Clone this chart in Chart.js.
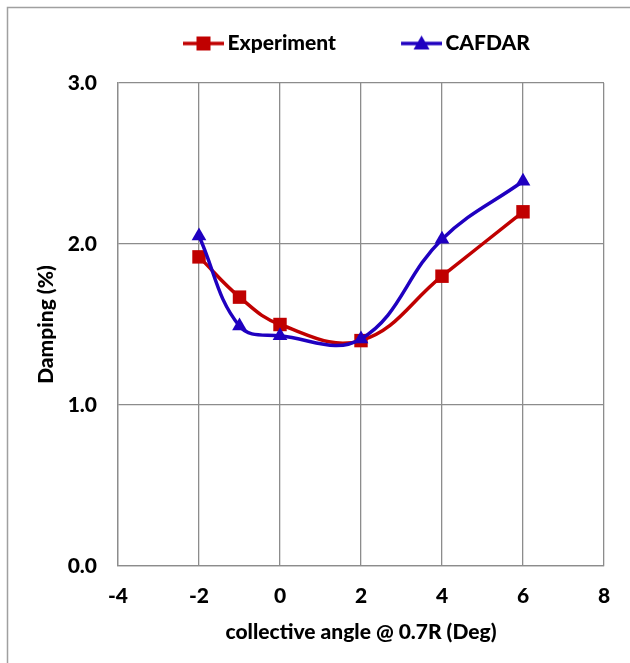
<!DOCTYPE html>
<html>
<head>
<meta charset="utf-8">
<script src="https://cdn.jsdelivr.net/npm/chart.js@4"></script>
<style>
  body { margin: 0; background: #fff; }
  #wrap { width: 630px; height: 663px; }
</style>
</head>
<body>
<div id="wrap"><canvas id="chart" width="630" height="663"></canvas></div>
<script>
// collective angle (deg)
const angles = [-2, -1, 0, 2, 4, 6];
const experiment = [1.92, 1.67, 1.50, 1.40, 1.80, 2.20];
const cafdar = [2.05, 1.49, 1.43, 1.41, 2.03, 2.39];
const seriesNames = ["Experiment", "CAFDAR"];

const red = "#C00000";
const blue = "#1F00C0";
const gridColor = "#8C8C8C";
const fontFamily = "Lato, 'Open Sans', sans-serif";
const fontSize = 21;
const fontWeight = 900;

// legend icon: short line with marker, sitting just left of the text
const iconBox = 70;
function legendIcon(color, shape) {
  const w = iconBox + 14, h = 20;
  const c = document.createElement("canvas");
  c.width = w; c.height = h;
  const g = c.getContext("2d");
  const x0 = w - 41, mid = x0 + 20.5;
  g.strokeStyle = color;
  g.lineWidth = 3.5;
  g.beginPath(); g.moveTo(x0, 10); g.lineTo(w, 10); g.stroke();
  g.fillStyle = color;
  if (shape === "rect") {
    g.fillRect(mid - 7, 3, 14, 14);
  } else {
    g.beginPath(); g.moveTo(mid, 2); g.lineTo(mid + 8, 16); g.lineTo(mid - 8, 16); g.closePath(); g.fill();
  }
  return c;
}

const outerBox = {
  id: "outerBox",
  beforeDraw(chart) {
    const ctx = chart.ctx;
    ctx.save();
    ctx.strokeStyle = "#A0A0A0";
    ctx.lineWidth = 1.5;
    ctx.strokeRect(7.5, 7.5, 700, 700);
    ctx.restore();
  }
};

const toPoints = (ys) => angles.map((x, i) => ({ x: x, y: ys[i] }));

new Chart(document.getElementById("chart"), {
  type: "line",
  data: {
    datasets: [
      {
        label: seriesNames[0],
        data: toPoints(experiment),
        borderColor: red,
        backgroundColor: red,
        borderWidth: 3.5,
        pointStyle: "rect",
        pointRadius: 9.5,
        pointBorderWidth: 0,
        tension: 0.4,
        order: 2
      },
      {
        label: seriesNames[1],
        data: toPoints(cafdar),
        borderColor: blue,
        backgroundColor: blue,
        borderWidth: 3.5,
        pointStyle: "triangle",
        pointRadius: 8.5,
        pointBorderWidth: 0,
        tension: 0.4,
        order: 1
      }
    ]
  },
  options: {
    responsive: false,
    animation: false,
    layout: { padding: { left: 0, right: 26, top: 4, bottom: 0 } },
    plugins: {
      tooltip: { enabled: false },
      // empty subtitle used only as a spacer between legend and plot
      subtitle: {
        display: true,
        text: "",
        position: "top",
        weight: 500,
        font: { size: 10 },
        padding: { top: 0, bottom: 7 }
      },
      legend: {
        position: "top",
        align: "start",
        fullSize: false,
        labels: {
          color: "#000",
          font: { family: fontFamily, size: fontSize, weight: fontWeight },
          usePointStyle: true,
          pointStyleWidth: iconBox,
          padding: 29,
          generateLabels(chart) {
            return chart.data.datasets.map((ds, i) => ({
              text: ds.label,
              pointStyle: legendIcon(ds.borderColor, ds.pointStyle),
              fillStyle: ds.borderColor,
              strokeStyle: ds.borderColor,
              lineWidth: 0,
              hidden: false,
              datasetIndex: i
            }));
          }
        }
      }
    },
    scales: {
      x: {
        type: "linear",
        min: -4,
        max: 8,
        ticks: {
          stepSize: 2,
          color: "#000",
          padding: 18,
          font: { family: fontFamily, size: fontSize, weight: fontWeight }
        },
        grid: { color: gridColor, lineWidth: 1.3, drawTicks: false },
        border: { color: gridColor, width: 1.3 },
        title: {
          display: true,
          text: "collective angle @ 0.7R (Deg)",
          color: "#000",
          font: { family: fontFamily, size: fontSize, weight: fontWeight },
          padding: { top: 4, bottom: 18 }
        },
        afterFit(scale) { scale.height = 97; }
      },
      y: {
        min: 0,
        max: 3,
        ticks: {
          stepSize: 1,
          color: "#000",
          padding: 21,
          font: { family: fontFamily, size: fontSize, weight: fontWeight },
          callback: (v) => Number(v).toFixed(1)
        },
        grid: { color: gridColor, lineWidth: 1.3, drawTicks: false },
        border: { color: gridColor, width: 1.3 },
        title: {
          display: true,
          text: "Damping (%)",
          color: "#000",
          font: { family: fontFamily, size: fontSize, weight: fontWeight },
          padding: { top: 34, bottom: 0 }
        },
        afterFit(scale) { scale.width = 118; }
      }
    }
  },
  plugins: [outerBox]
});
</script>
</body>
</html>
